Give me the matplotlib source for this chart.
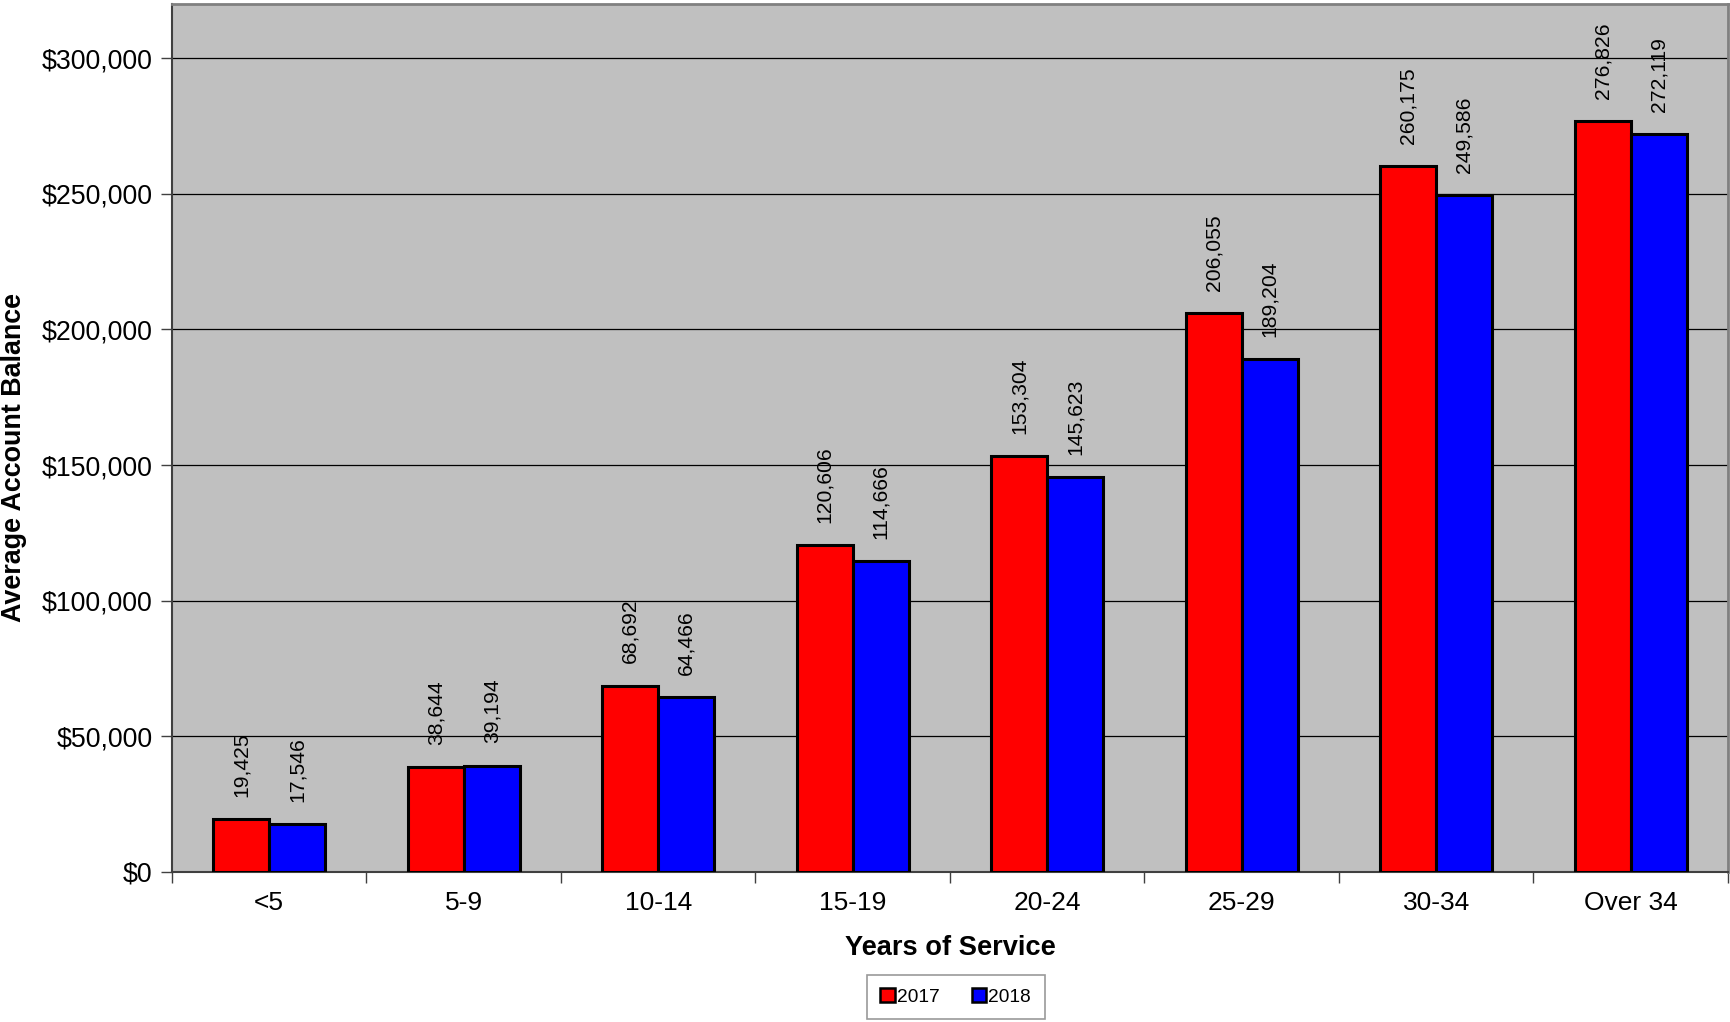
import numpy as np
import matplotlib
matplotlib.use('Agg')
import matplotlib.pyplot as plt
from matplotlib.ticker import FuncFormatter, FixedLocator

plt.rcParams['font.family'] = ['Liberation Sans', 'DejaVu Sans']

# Data
categories = ['<5', '5-9', '10-14', '15-19', '20-24', '25-29', '30-34', 'Over 34']
bal_2017 = [19425, 38644, 68692, 120606, 153304, 206055, 260175, 276826]
bal_2018 = [17546, 39194, 64466, 114666, 145623, 189204, 249586, 272119]

fig = plt.figure(figsize=(17.30, 10.22), dpi=100)
ax = fig.add_axes([0.0994, 0.1468, 0.8994, 0.8493])
ax.set_facecolor('#C0C0C0')

x = np.arange(len(categories))
w = 0.288
b1 = ax.bar(x - w / 2, bal_2017, w, color='#FF0000', edgecolor='black', linewidth=2.2, label='2017', zorder=3)
b2 = ax.bar(x + w / 2, bal_2018, w, color='#0000FF', edgecolor='black', linewidth=2.2, label='2018', zorder=3)

# value labels
for bars, vals in [(b1, bal_2017), (b2, bal_2018)]:
    for rect, v in zip(bars, vals):
        ax.annotate(f'{v:,}', (rect.get_x() + rect.get_width() / 2, v),
                    xytext=(0, 16), textcoords='offset points',
                    rotation=90, ha='center', va='bottom', fontsize=15.2)

ax.set_xlim(-0.5, len(categories) - 0.5)
ax.set_ylim(0, 320000)
ax.set_yticks(np.arange(0, 300001, 50000))
ax.yaxis.set_major_formatter(FuncFormatter(lambda v, p: f'${int(v):,}'))
ax.yaxis.grid(True, color='black', linewidth=0.9, zorder=1)
ax.set_axisbelow(True)

ax.set_xticks(x)
ax.set_xticklabels(categories)
ax.xaxis.set_minor_locator(FixedLocator(np.arange(-0.5, len(categories), 1)))
ax.tick_params(axis='x', which='major', length=0, pad=14, labelsize=19)
ax.tick_params(axis='x', which='minor', length=8, width=1, color='#404040', direction='out')
ax.tick_params(axis='y', length=8, width=1, color='#404040', labelsize=19.3, pad=6)

for side in ['top', 'right']:
    ax.spines[side].set_color('#808080')
    ax.spines[side].set_linewidth(2)
ax.spines['left'].set_color('#404040')
ax.spines['bottom'].set_color('#404040')
ax.spines['left'].set_linewidth(1.5)
ax.spines['bottom'].set_linewidth(1.5)

ax.set_xlabel('Years of Service', fontsize=19.6, fontweight='bold', labelpad=14)
ax.set_ylabel('Average Account Balance', fontsize=19.4, fontweight='bold', labelpad=10)
ax.yaxis.set_label_coords(-0.093, 0.477)

leg = fig.legend(handles=[b1, b2], loc='center', bbox_to_anchor=(0.5525, 0.0245),
                 ncol=2, fontsize=13.8, frameon=True, fancybox=False,
                 handlelength=0.75, handleheight=0.75, handletextpad=0.1,
                 columnspacing=1.7, borderpad=0.7, borderaxespad=0)
leg.get_frame().set_edgecolor('#808080')
leg.get_frame().set_linewidth(1.2)
for h in leg.legend_handles:
    h.set_linewidth(1.8)

fig.savefig('out.png', dpi=100, facecolor='white')
